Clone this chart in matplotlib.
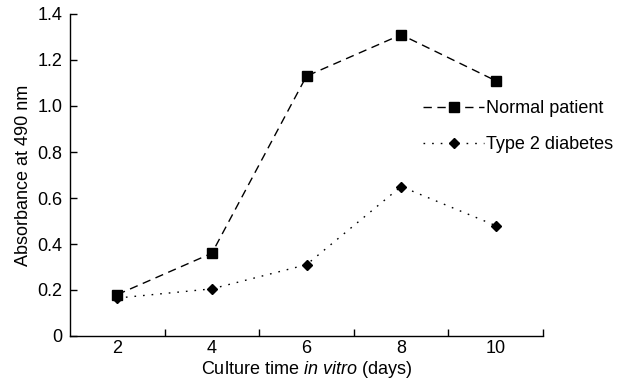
import matplotlib
matplotlib.use('Agg')
import matplotlib.pyplot as plt

plt.rcParams['font.family'] = ['Liberation Sans', 'DejaVu Sans']
plt.rcParams['mathtext.fontset'] = 'custom'
plt.rcParams['mathtext.rm'] = 'Liberation Sans'
plt.rcParams['mathtext.it'] = 'Liberation Sans:italic'

# Data -------------------------------------------------------------------------
days = ['2', '4', '6', '8', '10']
normal = [0.18, 0.36, 1.13, 1.31, 1.11]
diabetes = [0.165, 0.205, 0.31, 0.65, 0.48]
y_ticks = [0, 0.2, 0.4, 0.6, 0.8, 1.0, 1.2, 1.4]
y_labels = ['0', '0.2', '0.4', '0.6', '0.8', '1.0', '1.2', '1.4']

fs = 13

# Plot -------------------------------------------------------------------------
fig = plt.figure(figsize=(6.29, 3.83), dpi=100)
ax = fig.add_axes([70/629, 1 - 336/383, (543 - 70)/629, (336 - 14)/383])

pos = list(range(1, len(days) + 1))
ax.plot(pos, normal, color='black', lw=1.0, dashes=(6, 4),
        marker='s', ms=6.5, label='Normal patient')
ax.plot(pos, diabetes, color='black', lw=1.0, dashes=(1.2, 5),
        marker='D', ms=5.5, label='Type 2 diabetes')

ax.set_xlim(0.5, 5.5)
ax.set_ylim(0, 1.4)
ax.spines['top'].set_visible(False)
ax.spines['right'].set_visible(False)

# category labels centered, ticks between categories
ax.set_xticks(pos)
ax.set_xticklabels(days)
ax.set_xticks([p + 0.5 for p in pos], minor=True)
ax.tick_params(axis='x', which='major', length=0, pad=3, labelsize=fs)
ax.tick_params(axis='x', which='minor', direction='in', length=5, width=1)
ax.set_yticks(y_ticks)
ax.set_yticklabels(y_labels)
ax.tick_params(axis='y', direction='in', length=5, width=1, pad=5.5,
               labelsize=fs)
for s in ['left', 'bottom']:
    ax.spines[s].set_linewidth(1.0)

ax.set_xlabel(r'Culture time $\it{in\ vitro}$ (days)', fontsize=fs, labelpad=1)
ax.set_ylabel('Absorbance at 490 nm', fontsize=fs, labelpad=4)

ax.legend(loc='upper left', bbox_to_anchor=(423/629, 1 - 100/383),
          bbox_transform=fig.transFigure, frameon=False, fontsize=fs,
          handlelength=3.4, handletextpad=0.1, borderpad=0,
          borderaxespad=0, labelspacing=1.05)

plt.savefig('out.png', dpi=100)
